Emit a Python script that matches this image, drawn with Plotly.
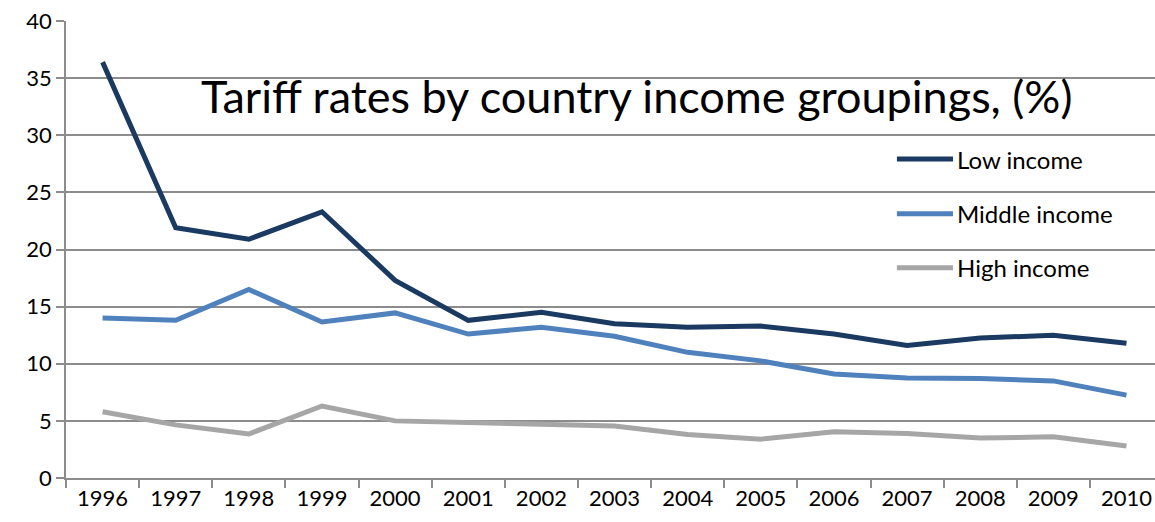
import plotly.graph_objects as go

years = [str(y) for y in range(1996, 2011)]
low_income = [36.4, 21.9, 20.9, 23.3, 17.3, 13.8, 14.5, 13.5, 13.2, 13.3, 12.6, 11.6, 12.25, 12.5, 11.8]
middle_income = [14.0, 13.8, 16.5, 13.65, 14.45, 12.6, 13.2, 12.4, 11.0, 10.25, 9.1, 8.75, 8.7, 8.5, 7.25]
high_income = [5.8, 4.65, 3.85, 6.3, 5.0, 4.8, 4.7, 4.55, 3.8, 3.4, 4.05, 3.9, 3.5, 3.6, 2.8]
series_names = ["Low income", "Middle income", "High income"]
series_colors = ["#1B3A62", "#4F81BD", "#A6A6A6"]
y_ticks = [0, 5, 10, 15, 20, 25, 30, 35, 40]

FONT = "Lato, 'Open Sans', sans-serif"
GRID = "#8C8C8C"
LINE_W = 5

fig = go.Figure()
for name, vals, col in zip(series_names, [low_income, middle_income, high_income], series_colors):
    fig.add_trace(go.Scatter(
        x=years, y=vals, mode="lines", name=name,
        line=dict(color=col, width=LINE_W),
    ))

# Legend drawn as paper-anchored key lines with labels, stacked on the right
legend_shapes = []
legend_notes = []
legend_y = [0.698, 0.578, 0.46]
for name, col, ly in zip(series_names, series_colors, legend_y):
    legend_shapes.append(dict(
        type="line", xref="paper", yref="paper",
        x0=0.763, x1=0.8145, y0=ly, y1=ly,
        line=dict(color=col, width=LINE_W),
    ))
    legend_notes.append(dict(
        text=name, xref="paper", yref="paper", x=0.816, y=ly,
        xanchor="left", yanchor="middle", showarrow=False,
        font=dict(size=24, family=FONT, color="black"),
    ))

fig.update_layout(
    width=1155, height=522,
    margin=dict(l=66, r=0, t=21, b=44),
    paper_bgcolor="white", plot_bgcolor="white",
    font=dict(family=FONT, size=22, color="black"),
    showlegend=False,
    shapes=legend_shapes,
    annotations=[dict(
        text="Tariff rates by country income groupings, (%)",
        xref="paper", yref="paper", x=0.524, y=0.836,
        xanchor="center", yanchor="middle", showarrow=False,
        font=dict(size=45, family=FONT, color="black"),
    )] + legend_notes,
)

fig.update_xaxes(
    type="category", range=[-0.5, 14.39],
    tickson="boundaries", ticks="outside", ticklen=8, tickcolor=GRID, tickwidth=1.5,
    showgrid=False, showline=True, linecolor=GRID, linewidth=1.5,
    tickfont=dict(size=22, family=FONT),
)
fig.update_yaxes(
    range=[0, 40], tickvals=y_ticks,
    ticks="outside", ticklen=8, tickcolor=GRID, tickwidth=1.5,
    showgrid=True, gridcolor=GRID, gridwidth=1.5,
    showline=True, linecolor=GRID, linewidth=1.5,
    zeroline=False, tickfont=dict(size=22, family=FONT),
)

fig.write_html("out.html")
